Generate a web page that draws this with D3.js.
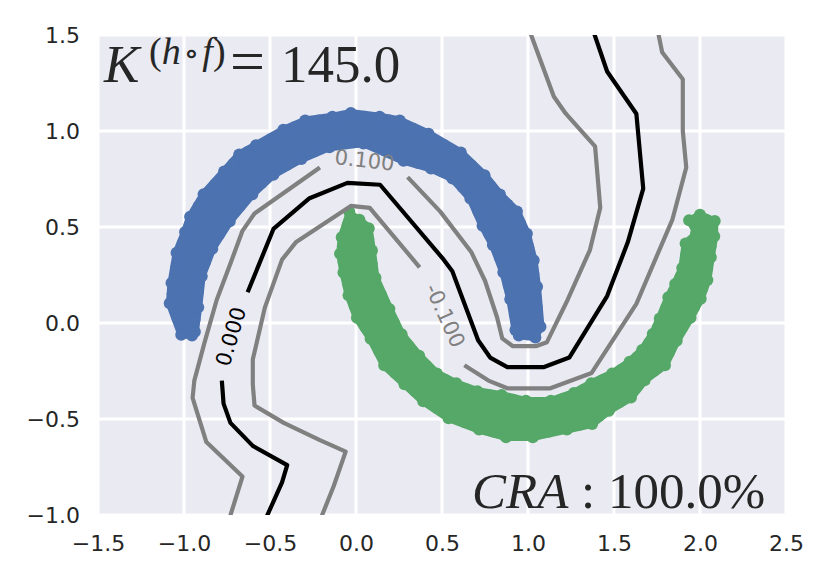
<!DOCTYPE html>
<html lang="en">
<head>
    <meta charset="UTF-8">
    <title>Two moons decision contours</title>
    <script type='text/javascript' src="https://d3js.org/d3.v7.min.js"></script>
    <style>
        body { margin: 0; padding: 0; background: #fff; }
    </style>
</head>
<body>
<svg id="chart" width="830" height="581"></svg>
<script>
    // Axis ticks
    const xTicks = [-1.5, -1.0, -0.5, 0.0, 0.5, 1.0, 1.5, 2.0, 2.5];
    const xTickLabels = ["\u22121.5", "\u22121.0", "\u22120.5", "0.0", "0.5", "1.0", "1.5", "2.0", "2.5"];
    const yTicks = [-1.0, -0.5, 0.0, 0.5, 1.0, 1.5];
    const yTickLabels = ["\u22121.0", "\u22120.5", "0.0", "0.5", "1.0", "1.5"];

    // Outline of each cloud of points (outer rim, then inner rim back)
    const blueMoon = [
        [-0.95, -0.08], [-1.03, -0.07], [-1.10, 0.10], [-1.09, 0.21], [-1.06, 0.37], [-1.01, 0.48],
        [-0.98, 0.56], [-0.90, 0.68], [-0.78, 0.80], [-0.69, 0.89], [-0.59, 0.94], [-0.43, 1.02],
        [-0.30, 1.07], [-0.14, 1.09], [-0.03, 1.11], [0.14, 1.09], [0.26, 1.07], [0.43, 1.00],
        [0.62, 0.90], [0.76, 0.78], [0.85, 0.68], [0.95, 0.59], [1.01, 0.47], [1.05, 0.33],
        [1.07, 0.19], [1.09, -0.02], [1.05, -0.09], [0.94, -0.08],
        [0.91, -0.04], [0.88, 0.12], [0.84, 0.26], [0.78, 0.40], [0.72, 0.50], [0.65, 0.64],
        [0.55, 0.74], [0.43, 0.79], [0.27, 0.83], [0.04, 0.92], [-0.15, 0.90], [-0.31, 0.84],
        [-0.47, 0.76], [-0.59, 0.66], [-0.72, 0.52], [-0.82, 0.38], [-0.88, 0.24], [-0.90, 0.08],
        [-0.92, -0.05]
    ];
    const greenMoon = [
        [-0.05, 0.59], [-0.10, 0.45], [-0.11, 0.36], [-0.09, 0.26], [-0.06, 0.14], [-0.01, 0.02],
        [0.07, -0.09], [0.15, -0.23], [0.27, -0.33], [0.38, -0.42], [0.53, -0.51], [0.71, -0.57],
        [0.87, -0.61], [1.03, -0.61], [1.23, -0.57], [1.38, -0.54], [1.48, -0.47], [1.61, -0.40],
        [1.69, -0.31], [1.81, -0.23], [1.88, -0.10], [1.96, 0.02], [2.02, 0.12], [2.06, 0.22],
        [2.08, 0.34], [2.10, 0.45], [2.10, 0.54], [2.00, 0.58], [1.92, 0.54],
        [1.96, 0.47], [1.90, 0.42], [1.88, 0.29], [1.84, 0.21], [1.80, 0.14], [1.75, 0.03],
        [1.71, -0.05], [1.65, -0.13], [1.58, -0.19], [1.48, -0.25], [1.36, -0.30], [1.26, -0.35],
        [1.13, -0.39], [0.99, -0.39], [0.85, -0.36], [0.71, -0.34], [0.59, -0.30], [0.48, -0.25],
        [0.38, -0.16], [0.28, -0.05], [0.21, 0.08], [0.13, 0.24], [0.11, 0.38], [0.09, 0.50],
        [0.03, 0.55]
    ];

    // Contour levels, each split in two pieces by its inline label
    const contourLevels = [0.1, 0.0, -0.1];
    const contourLabels = ["0.100", "0.000", "-0.100"];
    const contourLabelPos = [[0.05, 0.85], [-0.73, -0.07], [0.52, 0.04]];
    const contourP010 = [
        [[1.01, 1.52], [1.15, 1.18], [1.22, 1.09], [1.39, 0.92], [1.42, 0.60], [1.36, 0.38], [1.23, 0.12],
         [1.11, -0.10], [1.05, -0.12], [0.91, -0.12], [0.85, -0.08], [0.82, 0.03], [0.75, 0.22],
         [0.67, 0.37], [0.49, 0.58], [0.30, 0.76]],
        [[-0.21, 0.81], [-0.59, 0.57], [-0.66, 0.48], [-0.73, 0.31], [-0.81, 0.12], [-0.88, -0.10],
         [-0.94, -0.30], [-0.95, -0.39], [-0.87, -0.62], [-0.66, -0.80], [-0.74, -1.03]]
    ];
    const contour000 = [
        [[1.38, 1.52], [1.46, 1.31], [1.63, 1.09], [1.67, 0.70], [1.58, 0.42], [1.46, 0.14], [1.24, -0.18],
         [1.09, -0.23], [0.88, -0.23], [0.78, -0.18], [0.71, -0.09], [0.56, 0.27], [0.51, 0.33],
         [0.14, 0.72], [-0.05, 0.73], [-0.27, 0.65], [-0.48, 0.49], [-0.63, 0.16]],
        [[-0.78, -0.30], [-0.77, -0.42], [-0.73, -0.52], [-0.60, -0.64], [-0.40, -0.74], [-0.43, -0.83],
         [-0.53, -1.03]]
    ];
    const contourM010 = [
        [[1.755, 1.52], [1.78, 1.41], [1.90, 1.27], [1.90, 1.00], [1.92, 0.81], [1.84, 0.54], [1.63, 0.10],
         [1.37, -0.26], [1.13, -0.34], [0.88, -0.34], [0.77, -0.30], [0.63, -0.22]],
        [[0.37, 0.29], [0.08, 0.60], [-0.03, 0.61], [-0.35, 0.42], [-0.43, 0.33], [-0.53, 0.08],
         [-0.60, -0.19], [-0.60, -0.32], [-0.59, -0.43], [-0.42, -0.52], [-0.21, -0.61], [-0.06, -0.67],
         [-0.13, -0.85], [-0.21, -1.03]]
    ];
    const contourPieces = [contourP010, contour000, contourM010];

    const kValue = "145.0";
    const craValue = "100.0%";

    const width = 830, height = 581;
    const margin = {top: 35, right: 44, bottom: 66, left: 98};
    const textColor = "#262626";

    let svg = d3.select("#chart");

    let x = d3.scaleLinear().domain([-1.5, 2.5]).range([margin.left, width - margin.right]);
    let y = d3.scaleLinear().domain([-1.0, 1.5]).range([height - margin.bottom, margin.top]);

    // Background and clip
    svg.append("rect")
        .attr("x", x(-1.5)).attr("y", y(1.5))
        .attr("width", x(2.5) - x(-1.5)).attr("height", y(-1.0) - y(1.5))
        .attr("fill", "#EAEAF2");

    svg.append("clipPath").attr("id", "plotClip")
        .append("rect")
        .attr("x", x(-1.5)).attr("y", y(1.5))
        .attr("width", x(2.5) - x(-1.5)).attr("height", y(-1.0) - y(1.5));

    // Grid
    let grid = svg.append("g").attr("class", "grid").attr("clip-path", "url(#plotClip)");
    grid.selectAll("line.vx")
        .data(xTicks)
        .enter().append("line")
        .attr("x1", d => x(d)).attr("x2", d => x(d))
        .attr("y1", y(-1.0)).attr("y2", y(1.5))
        .attr("stroke", "white").attr("stroke-width", 3);
    grid.selectAll("line.hy")
        .data(yTicks)
        .enter().append("line")
        .attr("x1", x(-1.5)).attr("x2", x(2.5))
        .attr("y1", d => y(d)).attr("y2", d => y(d))
        .attr("stroke", "white").attr("stroke-width", 3);

    // Axes (labels only)
    let xAxis = svg.append("g")
        .attr("transform", "translate(0," + y(-1.0) + ")")
        .call(d3.axisBottom(x).tickValues(xTicks).tickFormat((d, i) => xTickLabels[i]).tickSize(0).tickPadding(20));
    let yAxis = svg.append("g")
        .attr("transform", "translate(" + x(-1.5) + ",0)")
        .call(d3.axisLeft(y).tickValues(yTicks).tickFormat((d, i) => yTickLabels[i]).tickSize(0).tickPadding(18));
    [xAxis, yAxis].forEach(function(ax) {
        ax.select(".domain").remove();
        ax.selectAll("text")
            .attr("fill", textColor)
            .style("font-family", "'DejaVu Sans', sans-serif")
            .style("font-size", "22px");
    });

    // Point clouds: filled outline with round dots along the rim
    function drawMoon(edge, color) {
        let pts = edge.map(d => [x(d[0]), y(d[1])]);
        let g = svg.append("g");
        g.append("path")
            .attr("d", "M" + pts.join("L") + "Z")
            .attr("fill", color)
            .attr("stroke", color)
            .attr("stroke-width", 2)
            .attr("stroke-linejoin", "round");

        let rim = [];
        for (let i = 0; i < pts.length; i++) {
            let a = pts[i], b = pts[(i + 1) % pts.length];
            rim.push(a, [(a[0] + b[0]) / 2, (a[1] + b[1]) / 2]);
        }
        let r = 6;
        let dots = rim.map(function(p, i) {
            let prev = rim[(i - 1 + rim.length) % rim.length], next = rim[(i + 1) % rim.length];
            let tx = next[0] - prev[0], ty = next[1] - prev[1];
            let len = Math.hypot(tx, ty) || 1;
            let nx = -ty / len, ny = tx / len;
            if (!d3.polygonContains(pts, [p[0] + nx * 3, p[1] + ny * 3])) { nx = -nx; ny = -ny; }
            // vertices stick out a bit more than the midpoints, giving a dotted rim
            let depth = (i % 2 === 0) ? r - 3 : r - 1;
            return [p[0] + nx * depth, p[1] + ny * depth];
        });
        g.selectAll("circle")
            .data(dots)
            .enter().append("circle")
            .attr("cx", d => d[0]).attr("cy", d => d[1])
            .attr("r", r)
            .attr("fill", color);
    }
    drawMoon(blueMoon, "#4C72B0");
    drawMoon(greenMoon, "#55A868");

    // Contours
    let line = d3.line().x(d => x(d[0])).y(d => y(d[1]));
    let contourGroup = svg.append("g").attr("clip-path", "url(#plotClip)");
    contourLevels.forEach(function(level, k) {
        let color = level === 0 ? "black" : "gray";
        contourGroup.selectAll("path.l" + k)
            .data(contourPieces[k])
            .enter().append("path")
            .attr("class", "l" + k)
            .attr("d", line)
            .attr("fill", "none")
            .attr("stroke", color)
            .attr("stroke-width", 4.2)
            .attr("stroke-linejoin", "round");

        // label rotated along the gap between the two pieces
        let end = contourPieces[k][0][contourPieces[k][0].length - 1];
        let start = contourPieces[k][1][0];
        let ang = Math.atan2(y(start[1]) - y(end[1]), x(start[0]) - x(end[0])) * 180 / Math.PI;
        if (ang > 90) ang -= 180;
        if (ang < -90) ang += 180;
        let px = x(contourLabelPos[k][0]), py = y(contourLabelPos[k][1]);
        svg.append("text")
            .attr("transform", "translate(" + px + "," + py + ") rotate(" + ang + ")")
            .attr("text-anchor", "middle")
            .attr("dy", "0.36em")
            .style("font-family", "'DejaVu Sans', sans-serif")
            .style("font-size", "21px")
            .style("fill", color)
            .text(contourLabels[k]);
    });

    // Annotations
    let kText = svg.append("text")
        .attr("y", 82)
        .style("font-family", "'Liberation Serif', 'DejaVu Serif', serif")
        .style("font-size", "53px")
        .style("fill", textColor);
    kText.append("tspan").attr("x", 104).style("font-style", "italic").text("K");
    kText.append("tspan").attr("x", 149).attr("dy", -18).style("font-size", "38px").text("(");
    kText.append("tspan").style("font-size", "38px").style("font-style", "italic").text("h");
    kText.append("tspan").attr("dx", 3).style("font-size", "32px").text("\u2218");
    kText.append("tspan").attr("dx", 3).style("font-size", "38px").style("font-style", "italic").text("f");
    kText.append("tspan").style("font-size", "38px").text(")");
    kText.append("tspan").attr("x", 230).attr("dy", 18).style("font-size", "62px").text("=");
    kText.append("tspan").attr("x", 281).text(kValue);

    let craText = svg.append("text")
        .attr("x", 472)
        .attr("y", 508)
        .style("font-family", "'Liberation Serif', 'DejaVu Serif', serif")
        .style("font-size", "51px")
        .style("fill", textColor);
    craText.append("tspan").style("font-style", "italic").text("CRA");
    craText.append("tspan").text(" : " + craValue);
</script>
</body>
</html>
